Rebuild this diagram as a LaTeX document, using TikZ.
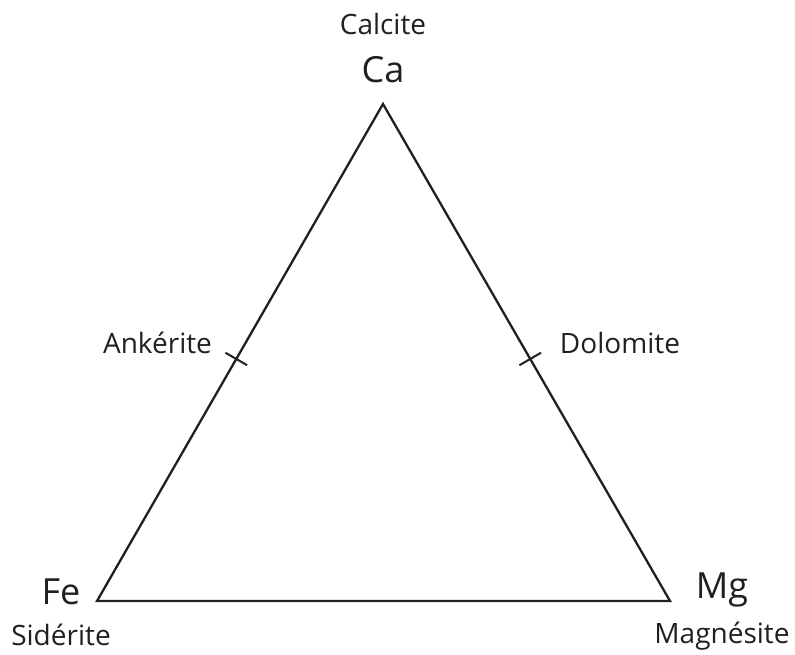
\documentclass[tikz,border=0pt]{standalone}
\usepackage{fontspec}
\setmainfont{Open Sans}
\usetikzlibrary{calc}
\definecolor{ink}{HTML}{231F20}
\begin{document}
\begin{tikzpicture}[x=1pt,y=-1pt,
  edge/.style={line width=2.3pt,line join=miter,draw=ink},
  tick/.style={line width=2pt,draw=ink},
  small/.style={font=\fontsize{28}{30}\selectfont,anchor=base,inner sep=0pt,text=ink},
  big/.style={font=\fontsize{36}{38}\selectfont,anchor=base,inner sep=0pt,text=ink}]
\useasboundingbox (0,0) rectangle (795,655);
\coordinate (ca) at (383,104);
\coordinate (fe) at (97,601);
\coordinate (mg) at (670,601);
\draw[edge] (ca) -- (fe) -- (mg) -- cycle;
% ticks
\coordinate (tl) at ($(fe)!0.487!(ca)$);
\coordinate (tr) at ($(mg)!0.487!(ca)$);
\draw[tick] ($(tl)!12.5pt!90:(ca)$) -- ($(tl)!12.5pt!-90:(ca)$);
\draw[tick] ($(tr)!12.5pt!90:(ca)$) -- ($(tr)!12.5pt!-90:(ca)$);
% labels
\node[small] (calcite) at (383,35) {Calcite};
\node[big] (calab) at (383,83) {Ca};
\node[small] (ank) at (157.5,353) {Ankérite};
\node[small] (dol) at (620,353) {Dolomite};
\node[big] (felab) at (61,604) {Fe};
\node[small] (sid) at (61,645) {Sidérite};
\node[big] (mglab) at (722,598) {Mg};
\node[small] (mag) at (722,643) {Magnésite};
\end{tikzpicture}
\end{document}
